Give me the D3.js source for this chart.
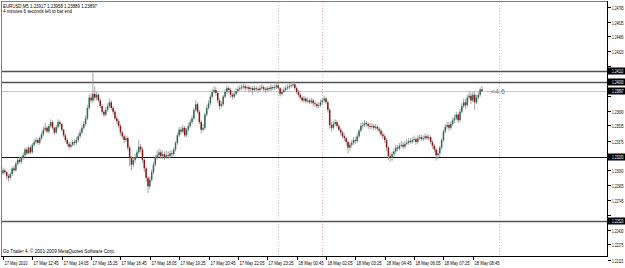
<!DOCTYPE html>
<html>
<head>
<meta charset="utf-8">
<script src="https://cdn.jsdelivr.net/npm/d3@7"></script>
<style>
  body { margin: 0; background: #fff; }
  svg { display: block; }
  text { font-family: "Liberation Sans", Arial, sans-serif; }
</style>
</head>
<body>
<div id="chart"></div>
<script>
// EURUSD M5 bars, 17 May 2010 11:25 -> 18 May 09:10
const firstOpen = 1.2303;
const closes = [
  1.2306,1.2304,1.2300,1.2298,1.2302,1.2308,1.2306,1.2313,1.2317,1.2315,
  1.2319,1.2322,1.2328,1.2324,1.2330,1.2325,1.2333,1.2336,1.2338,1.2335,
  1.2340,1.2344,1.2349,1.2351,1.2347,1.2353,1.2357,1.2351,1.2346,1.2352,
  1.2357,1.2355,1.2349,1.2343,1.2338,1.2334,1.2331,1.2333,1.2336,1.2335,
  1.2338,1.2342,1.2346,1.2351,1.2355,1.2361,1.2372,1.2383,1.2380,1.2387,
  1.2383,1.2386,1.2380,1.2374,1.2368,1.2365,1.2370,1.2374,1.2378,1.2372,
  1.2368,1.2361,1.2358,1.2353,1.2346,1.2342,1.2338,1.2340,1.2330,1.2319,
  1.2312,1.2317,1.2320,1.2325,1.2331,1.2328,1.2317,1.2308,1.2298,1.2289,
  1.2296,1.2304,1.2312,1.2319,1.2322,1.2325,1.2321,1.2323,1.2320,1.2322,
  1.2321,1.2324,1.2323,1.2328,1.2335,1.2343,1.2349,1.2347,1.2351,1.2343,
  1.2349,1.2353,1.2357,1.2361,1.2370,1.2376,1.2368,1.2357,1.2349,1.2351,
  1.2365,1.2372,1.2377,1.2384,1.2389,1.2391,1.2388,1.2380,1.2374,1.2376,
  1.2384,1.2389,1.2393,1.2391,1.2386,1.2384,1.2387,1.2390,1.2392,1.2393,
  1.2394,1.2395,1.2393,1.2394,1.2392,1.2393,1.2391,1.2393,1.2392,1.2391,
  1.2393,1.2394,1.2392,1.2391,1.2393,1.2392,1.2394,1.2393,1.2394,1.2396,
  1.2393,1.2387,1.2389,1.2391,1.2393,1.2394,1.2395,1.2396,1.2397,1.2393,
  1.2389,1.2386,1.2383,1.2380,1.2382,1.2379,1.2380,1.2378,1.2380,1.2377,
  1.2376,1.2374,1.2375,1.2378,1.2380,1.2382,1.2378,1.2370,1.2354,1.2351,
  1.2355,1.2357,1.2353,1.2349,1.2346,1.2342,1.2340,1.2336,1.2330,1.2333,
  1.2335,1.2338,1.2337,1.2342,1.2348,1.2353,1.2354,1.2356,1.2355,1.2353,
  1.2352,1.2353,1.2351,1.2352,1.2350,1.2348,1.2344,1.2342,1.2338,1.2330,
  1.2321,1.2319,1.2323,1.2326,1.2330,1.2329,1.2332,1.2333,1.2331,1.2334,
  1.2335,1.2337,1.2336,1.2338,1.2339,1.2336,1.2340,1.2341,1.2339,1.2340,
  1.2342,1.2340,1.2341,1.2336,1.2332,1.2328,1.2322,1.2324,1.2330,1.2338,
  1.2347,1.2352,1.2354,1.2351,1.2355,1.2359,1.2361,1.2365,1.2359,1.2368,
  1.2374,1.2378,1.2375,1.2383,1.2385,1.2380,1.2386,1.2378,1.2383,1.2386,1.23917,1.23897
];
const highs = [
  1.2309,1.2308,1.2305,1.2302,1.2304,1.2310,1.2311,1.2315,1.2319,1.2320,
  1.2321,1.2325,1.2330,1.2331,1.2332,1.2332,1.2335,1.2339,1.2341,1.2340,
  1.2342,1.2347,1.2352,1.2356,1.2353,1.2355,1.2360,1.2359,1.2352,1.2354,
  1.2360,1.2359,1.2356,1.2350,1.2345,1.2340,1.2336,1.2336,1.2338,1.2339,
  1.2341,1.2345,1.2349,1.2354,1.2358,1.2364,1.2375,1.2386,1.2388,1.2410,
  1.2395,1.2389,1.2388,1.2382,1.2376,1.2370,1.2373,1.2377,1.2382,1.2380,
  1.2374,1.2370,1.2364,1.2360,1.2355,1.2348,1.2344,1.2343,1.2342,1.2332,
  1.2321,1.2320,1.2323,1.2328,1.2338,1.2334,1.2330,1.2319,1.2310,1.2300,
  1.2299,1.2307,1.2315,1.2322,1.2327,1.2329,1.2328,1.2327,1.2326,1.2327,
  1.2326,1.2327,1.2327,1.2330,1.2337,1.2346,1.2352,1.2352,1.2354,1.2353,
  1.2351,1.2356,1.2360,1.2364,1.2372,1.2380,1.2378,1.2370,1.2359,1.2355,
  1.2367,1.2375,1.2380,1.2387,1.2392,1.2395,1.2394,1.2390,1.2382,1.2379,
  1.2386,1.2392,1.2396,1.2395,1.2393,1.2388,1.2390,1.2393,1.2395,1.2396,
  1.2397,1.2398,1.2397,1.2396,1.2396,1.2395,1.2395,1.2396,1.2395,1.2394,
  1.2396,1.2397,1.2396,1.2394,1.2395,1.2395,1.2397,1.2396,1.2397,1.2399,
  1.2399,1.2394,1.2392,1.2394,1.2396,1.2397,1.2398,1.2399,1.2400,1.2399,
  1.2395,1.2391,1.2388,1.2385,1.2385,1.2384,1.2383,1.2382,1.2383,1.2382,
  1.2380,1.2378,1.2378,1.2381,1.2383,1.2385,1.2384,1.2380,1.2372,1.2357,
  1.2358,1.2360,1.2359,1.2355,1.2351,1.2348,1.2345,1.2342,1.2338,1.2336,
  1.2338,1.2341,1.2341,1.2345,1.2350,1.2356,1.2357,1.2359,1.2358,1.2357,
  1.2356,1.2356,1.2355,1.2355,1.2354,1.2352,1.2350,1.2347,1.2344,1.2340,
  1.2332,1.2324,1.2326,1.2329,1.2333,1.2333,1.2335,1.2337,1.2336,1.2337,
  1.2339,1.2340,1.2340,1.2341,1.2343,1.2341,1.2343,1.2344,1.2344,1.2343,
  1.2345,1.2344,1.2344,1.2343,1.2338,1.2334,1.2330,1.2327,1.2332,1.2340,
  1.2349,1.2355,1.2357,1.2357,1.2358,1.2362,1.2365,1.2368,1.2367,1.2371,
  1.2377,1.2382,1.2381,1.2386,1.2390,1.2388,1.2389,1.2390,1.2386,1.2389,1.2394,1.23958
];
const lows = [
  1.2301,1.2302,1.2296,1.2294,1.2296,1.2300,1.2304,1.2305,1.2311,1.2313,
  1.2313,1.2317,1.2320,1.2322,1.2323,1.2323,1.2324,1.2331,1.2334,1.2333,
  1.2333,1.2338,1.2342,1.2347,1.2345,1.2345,1.2351,1.2349,1.2344,1.2344,
  1.2350,1.2352,1.2347,1.2341,1.2336,1.2331,1.2328,1.2329,1.2331,1.2332,
  1.2333,1.2336,1.2340,1.2344,1.2349,1.2353,1.2359,1.2370,1.2377,1.2378,
  1.2380,1.2380,1.2378,1.2372,1.2365,1.2362,1.2363,1.2368,1.2372,1.2370,
  1.2365,1.2359,1.2355,1.2351,1.2343,1.2339,1.2335,1.2336,1.2327,1.2310,
  1.2306,1.2309,1.2314,1.2318,1.2323,1.2325,1.2314,1.2304,1.2294,1.2282,
  1.2286,1.2294,1.2302,1.2310,1.2317,1.2320,1.2318,1.2318,1.2317,1.2318,
  1.2318,1.2319,1.2320,1.2321,1.2326,1.2333,1.2341,1.2344,1.2345,1.2341,
  1.2341,1.2347,1.2351,1.2355,1.2359,1.2368,1.2366,1.2355,1.2345,1.2347,
  1.2349,1.2363,1.2370,1.2375,1.2382,1.2387,1.2385,1.2377,1.2370,1.2372,
  1.2374,1.2382,1.2387,1.2388,1.2383,1.2381,1.2382,1.2385,1.2388,1.2390,
  1.2391,1.2392,1.2390,1.2391,1.2388,1.2389,1.2386,1.2389,1.2390,1.2388,
  1.2389,1.2391,1.2390,1.2388,1.2389,1.2390,1.2390,1.2391,1.2391,1.2392,
  1.2391,1.2384,1.2385,1.2388,1.2389,1.2391,1.2392,1.2393,1.2394,1.2391,
  1.2387,1.2384,1.2381,1.2378,1.2378,1.2377,1.2377,1.2376,1.2376,1.2374,
  1.2373,1.2371,1.2372,1.2373,1.2376,1.2378,1.2376,1.2367,1.2350,1.2347,
  1.2349,1.2353,1.2351,1.2347,1.2343,1.2340,1.2337,1.2332,1.2324,1.2327,
  1.2330,1.2333,1.2334,1.2335,1.2340,1.2346,1.2350,1.2352,1.2352,1.2350,
  1.2349,1.2350,1.2348,1.2349,1.2347,1.2345,1.2342,1.2339,1.2335,1.2326,
  1.2317,1.2315,1.2316,1.2320,1.2324,1.2326,1.2327,1.2330,1.2328,1.2329,
  1.2332,1.2333,1.2334,1.2334,1.2336,1.2333,1.2334,1.2338,1.2337,1.2337,
  1.2338,1.2338,1.2338,1.2334,1.2329,1.2325,1.2316,1.2318,1.2320,1.2328,
  1.2336,1.2345,1.2350,1.2348,1.2349,1.2353,1.2356,1.2359,1.2356,1.2357,
  1.2366,1.2372,1.2371,1.2373,1.2381,1.2376,1.2378,1.2370,1.2376,1.2381,1.2384,1.23889
];

const timeLabels = [
  "17 May 2010", "17 May 12:45", "17 May 14:05", "17 May 15:25", "17 May 16:45",
  "17 May 18:05", "17 May 19:25", "17 May 20:45", "17 May 22:05", "17 May 23:25",
  "18 May 00:45", "18 May 02:05", "18 May 03:25", "18 May 04:45", "18 May 06:05",
  "18 May 07:25", "18 May 08:45"
];
const barsPerLabel = 16;

const priceTicks = [
  1.24795, 1.24635, 1.24480, 1.24320, 1.24165, 1.24005, 1.23850, 1.23690, 1.23535,
  1.23375, 1.23220, 1.23060, 1.22905, 1.22745, 1.22590, 1.22430, 1.22275, 1.22115
];

// horizontal levels drawn by the user
const levelPrices = [1.24110, 1.24000, 1.23200, 1.22520];
const levelColors = ["#505050", "#505050", "#111", "#555"];
const bidPrice = 1.23897;
// vertical dotted lines (bar index)
const vlineBars = [150, 174, 270];

const titleLine = "EURUSD,M5  1.23917 1.23958 1.23889 1.23897";
const timerLine = "4 minutes 6 seconds left to bar end";
const copyright = "Go Trader 4, \u00a9 2001-2009 MetaQuotes Software Corp.";
const spreadNote = "<4.6";

const W = 625, H = 268;
const plot = { left: 1, top: 1, right: 607, bottom: 256 };

const svg = d3.select("#chart").append("svg")
  .attr("width", W)
  .attr("height", H);

svg.append("rect").attr("width", W).attr("height", H).attr("fill", "#fff");

const xScale = d3.scaleLinear()
  .domain([0, closes.length - 1])
  .range([3, 482]);

const yScale = d3.scaleLinear()
  .domain([priceTicks[priceTicks.length - 1], priceTicks[0]])
  .range([259.5, 6.5]);

const bars = closes.map((c, i) => ({
  i,
  open: i === 0 ? firstOpen : closes[i - 1],
  close: c,
  high: highs[i],
  low: lows[i]
}));

// small squeezed text, like the terminal's tiny font
function smallText(x, y, str, width, color, size) {
  return svg.append("text")
    .attr("x", x).attr("y", y)
    .attr("font-size", size || 5.3)
    .attr("fill", color || "#000")
    .attr("textLength", width)
    .attr("lengthAdjust", "spacingAndGlyphs")
    .text(str);
}

// price label squeezed horizontally so it stays inside the window
function axisText(y, str, color) {
  svg.append("g")
    .attr("transform", `translate(${plot.right + 5},${y}) scale(0.6,1)`)
    .append("text")
    .attr("font-size", 5.3)
    .attr("fill", color)
    .text(str);
}

// frame
svg.append("rect")
  .attr("x", plot.left + 0.5).attr("y", plot.top + 0.5)
  .attr("width", plot.right - plot.left).attr("height", plot.bottom - plot.top)
  .attr("fill", "none").attr("stroke", "#808080");
svg.append("line")
  .attr("x1", plot.right + 0.5).attr("x2", plot.right + 0.5)
  .attr("y1", plot.top).attr("y2", plot.bottom + 1)
  .attr("stroke", "#000");
svg.append("line")
  .attr("x1", plot.left).attr("x2", plot.right + 1)
  .attr("y1", plot.bottom + 0.5).attr("y2", plot.bottom + 0.5)
  .attr("stroke", "#000");

// vertical dotted lines
svg.selectAll("vsep")
  .data(vlineBars)
  .enter()
  .append("line")
  .attr("x1", d => Math.round(xScale(d)) + 0.5)
  .attr("x2", d => Math.round(xScale(d)) + 0.5)
  .attr("y1", plot.top + 1)
  .attr("y2", plot.bottom)
  .attr("stroke", "#f2b4b4")
  .attr("stroke-dasharray", "1,2");

// horizontal levels
svg.selectAll("levels")
  .data(levelPrices)
  .enter()
  .append("line")
  .attr("x1", plot.left + 1)
  .attr("x2", plot.right)
  .attr("y1", d => Math.round(yScale(d)) + 0.5)
  .attr("y2", d => Math.round(yScale(d)) + 0.5)
  .attr("stroke", (d, i) => levelColors[i])
  .attr("stroke-width", (d, i) => i === 2 ? 1 : 1.5);

// bid line
svg.append("line")
  .attr("x1", plot.left + 1).attr("x2", plot.right)
  .attr("y1", Math.round(yScale(bidPrice)) + 0.5)
  .attr("y2", Math.round(yScale(bidPrice)) + 0.5)
  .attr("stroke", "#c8c8c8");

// candles
const candles = svg.append("g");
candles.selectAll("wick")
  .data(bars)
  .enter()
  .append("line")
  .attr("x1", d => xScale(d.i))
  .attr("x2", d => xScale(d.i))
  .attr("y1", d => yScale(d.high))
  .attr("y2", d => yScale(d.low))
  .attr("stroke", "#9c9c9c")
  .attr("stroke-width", 0.9);

candles.selectAll("body")
  .data(bars)
  .enter()
  .append("rect")
  .attr("x", d => xScale(d.i) - 0.75)
  .attr("width", 1.5)
  .attr("y", d => yScale(Math.max(d.open, d.close)))
  .attr("height", d => Math.max(0.8, Math.abs(yScale(d.open) - yScale(d.close))))
  .attr("fill", d => d.close >= d.open ? "#2f6a52" : "#8e1414");

// price axis ticks; labels hidden under a level box are skipped
const boxPrices = levelPrices.concat([bidPrice]);
priceTicks.forEach(p => {
  const y = Math.round(yScale(p)) + 0.5;
  svg.append("line")
    .attr("x1", plot.right + 1).attr("x2", plot.right + 4)
    .attr("y1", y).attr("y2", y)
    .attr("stroke", "#000");
  const covered = boxPrices.some(b => Math.abs(yScale(b) - y) < 6.5);
  if (!covered) axisText(y + 2, p.toFixed(5), "#000");
});

// boxes on the axis for levels and bid
boxPrices.forEach(p => {
  const y = Math.round(yScale(p));
  svg.append("rect")
    .attr("x", plot.right + 1).attr("y", y - 3.5)
    .attr("width", W - plot.right).attr("height", 7)
    .attr("fill", "#000");
  axisText(y + 2, p.toFixed(5), "#fff");
});

// time axis
timeLabels.forEach((t, k) => {
  const x = Math.round(xScale(k * barsPerLabel)) + 0.5;
  svg.append("line")
    .attr("x1", x).attr("x2", x)
    .attr("y1", plot.bottom + 1).attr("y2", plot.bottom + 4)
    .attr("stroke", "#000");
  smallText(x + 1, 265, t, k === 0 ? 23 : 25, "#000", 5.3);
});

// texts
smallText(3, 7.5, titleLine, 94);
smallText(3, 13, timerLine, 69);
smallText(3, 253, copyright, 112);
svg.append("text")
  .attr("x", xScale(closes.length - 1) + 9)
  .attr("y", yScale(bidPrice) + 2.5)
  .attr("font-size", 7)
  .attr("fill", "#777")
  .text(spreadNote);
</script>
</body>
</html>
